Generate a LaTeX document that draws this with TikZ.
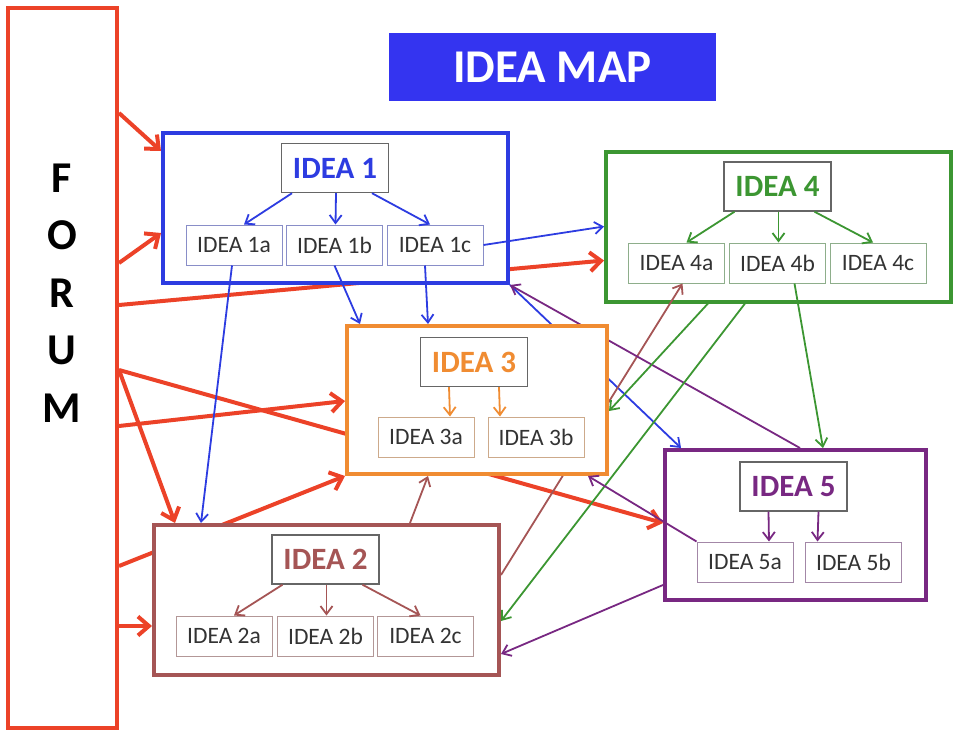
\documentclass[tikz,border=0pt]{standalone}
\usepackage{fontspec}
\setmainfont{Carlito}
\usetikzlibrary{arrows.meta}
\pgfdeclarelayer{background}
\pgfsetlayers{background,main}

\definecolor{forumred}{RGB}{236,66,40}
\definecolor{mapblue}{RGB}{52,52,240}
\definecolor{c1}{RGB}{45,60,225}
\definecolor{c2}{RGB}{165,85,85}
\definecolor{c3}{RGB}{240,140,50}
\definecolor{c4}{RGB}{60,150,50}
\definecolor{c5}{RGB}{120,40,130}

\tikzset{
  bigbox/.style={draw=#1, line width=4pt, fill=white, minimum width=345pt, minimum height=150pt},
  headbox/.style={draw=gray!80!black, line width=1.4pt, fill=white, minimum width=107pt,
    minimum height=49pt, text=#1, font=\fontsize{31}{31}\selectfont\bfseries},
  subbox/.style={draw=#1!50!gray!70, line width=1pt, fill=white, minimum width=96pt,
    minimum height=40pt, font=\fontsize{23.5}{23.5}\selectfont, text=black!80},
  link/.style={draw=#1, line width=1.8pt, -{Straight Barb[length=8pt,width=12pt]}},
  redlink/.style={draw=forumred, line width=4pt, -{Straight Barb[length=11pt,width=19pt]}},
}

\begin{document}
\begin{tikzpicture}[x=1pt,y=-1pt]
\useasboundingbox (0,0) rectangle (959,731);

% forum column and title
\node[draw=forumred, line width=4pt, minimum width=109pt, minimum height=720pt] (forum) at (62.5,368) {};
\node[font=\fontsize{44}{57.5}\selectfont\bfseries, align=center] (forumtxt) at (62,293) {F\\O\\R\\U\\M};
\node[fill=mapblue, minimum width=327pt, minimum height=68pt, text=white,
  font=\fontsize{47}{47}\selectfont\bfseries] (title) at (552.5,67) {IDEA MAP};

% idea 1
\node[bigbox=c1] (box1) at (335.5,208) {};
\node[headbox=c1] (head1) at (335,168) {IDEA 1};
\node[subbox=c1] (sub1a) at (234,245) {IDEA 1a};
\node[subbox=c1] (sub1b) at (334.5,245) {IDEA 1b};
\node[subbox=c1] (sub1c) at (435,245) {IDEA 1c};

% idea 2
\node[bigbox=c2] (box2) at (326.5,600) {};
\node[headbox=c2] (head2) at (325.5,559.5) {IDEA 2};
\node[subbox=c2] (sub2a) at (224,636) {IDEA 2a};
\node[subbox=c2] (sub2b) at (325.5,636) {IDEA 2b};
\node[subbox=c2] (sub2c) at (425.5,636) {IDEA 2c};

% idea 4
\node[bigbox=c4] (box4) at (778.5,226.5) {};
\node[headbox=c4] (head4) at (777.5,186.5) {IDEA 4};
\node[subbox=c4] (sub4a) at (676.5,263) {IDEA 4a};
\node[subbox=c4] (sub4b) at (777.5,263) {IDEA 4b};
\node[subbox=c4] (sub4c) at (878,263) {IDEA 4c};

% idea 5
\node[bigbox=c5, minimum width=261pt] (box5) at (795.5,525) {};
\node[headbox=c5] (head5) at (793.5,486.5) {IDEA 5};
\node[subbox=c5] (sub5a) at (745,562) {IDEA 5a};
\node[subbox=c5] (sub5b) at (853.5,562) {IDEA 5b};

\foreach \g in {1,2,4}
{
    \draw[link=c\g] ([xshift=-43pt]head\g.south) -- ([xshift=10pt]sub\g a.north);
    \draw[link=c\g] ([xshift=1pt]head\g.south) -- ([xshift=1pt]sub\g b.north);
    \draw[link=c\g] ([xshift=37pt]head\g.south) -- ([xshift=-5pt]sub\g c.north);
}

% links that pass behind idea 3
\draw[link=c1] (box1.south east) -- ([xshift=18pt]box5.north west);
\draw[link=c2] ([yshift=-52pt]box2.north east) -- ([xshift=6pt]sub4a.south);
\draw[link=c5] ([xshift=137pt]box5.north west) -- (box1.south east);

% idea 3
\node[bigbox=c3, minimum width=260pt, minimum height=148pt] (box3) at (477,400) {};
\node[headbox=c3] (head3) at (474,362) {IDEA 3};
\node[subbox=c3] (sub3a) at (426,437) {IDEA 3a};
\node[subbox=c3] (sub3b) at (536,437) {IDEA 3b};

\foreach \g in {3,5}
{
    \draw[link=c\g] ([xshift=-25pt]head\g.south) -- ([xshift=24pt]sub\g a.north);
    \draw[link=c\g] ([xshift=25pt]head\g.south) -- ([xshift=-36pt]sub\g b.north);
}

\draw[link=c1] ([xshift=-2pt]sub1a.south) -- ([xshift=49pt]box2.north west);
\draw[link=c1] (sub1b.south) -- ([xshift=15pt]box3.north west);
\draw[link=c1] ([xshift=-10pt]sub1c.south) -- ([xshift=83pt]box3.north west);
\draw[link=c1] (sub1c.east) -- ([yshift=-77pt]box4.north west);
\draw[link=c4] ([xshift=17pt]sub4b.south) -- ([xshift=160pt]box5.north west);
\draw[link=c4] ([xshift=104pt]box4.south west) -- ([yshift=-87pt]box3.north east);
\draw[link=c4] ([xshift=141pt]box4.south west) -- ([yshift=-98pt]box2.north east);
\draw[link=c2] ([xshift=258pt]box2.north west) -- ([xshift=83pt]box3.south west);
\draw[link=c5] (sub5a.north west) -- ([xshift=-21pt]box3.south east);
\draw[link=c5] ([yshift=17pt]box5.south west) -- ([yshift=23pt]box2.south east);

% forum arrows, under every box
\begin{pgfonlayer}{background}
\draw[redlink] ([yshift=-107pt]forum.north east) -- ([yshift=-20pt]box1.north west);
\draw[redlink] ([yshift=-257pt]forum.north east) -- ([yshift=-102pt]box1.north west);
\draw[redlink] ([yshift=-299pt]forum.north east) -- ([yshift=-111pt]box4.north west);
\draw[redlink] ([yshift=-364pt]forum.north east) -- ([yshift=-75pt]box5.north west);
\draw[redlink] ([yshift=-364pt]forum.north east) -- ([xshift=23pt]box2.north west);
\draw[redlink] ([yshift=-420pt]forum.north east) -- ([yshift=-77pt]box3.north west);
\draw[redlink] ([yshift=-560pt]forum.north east) -- (box3.south west);
\draw[redlink] ([yshift=-620pt]forum.north east) -- ([yshift=-103pt]box2.north west);
\end{pgfonlayer}

\end{tikzpicture}
\end{document}
